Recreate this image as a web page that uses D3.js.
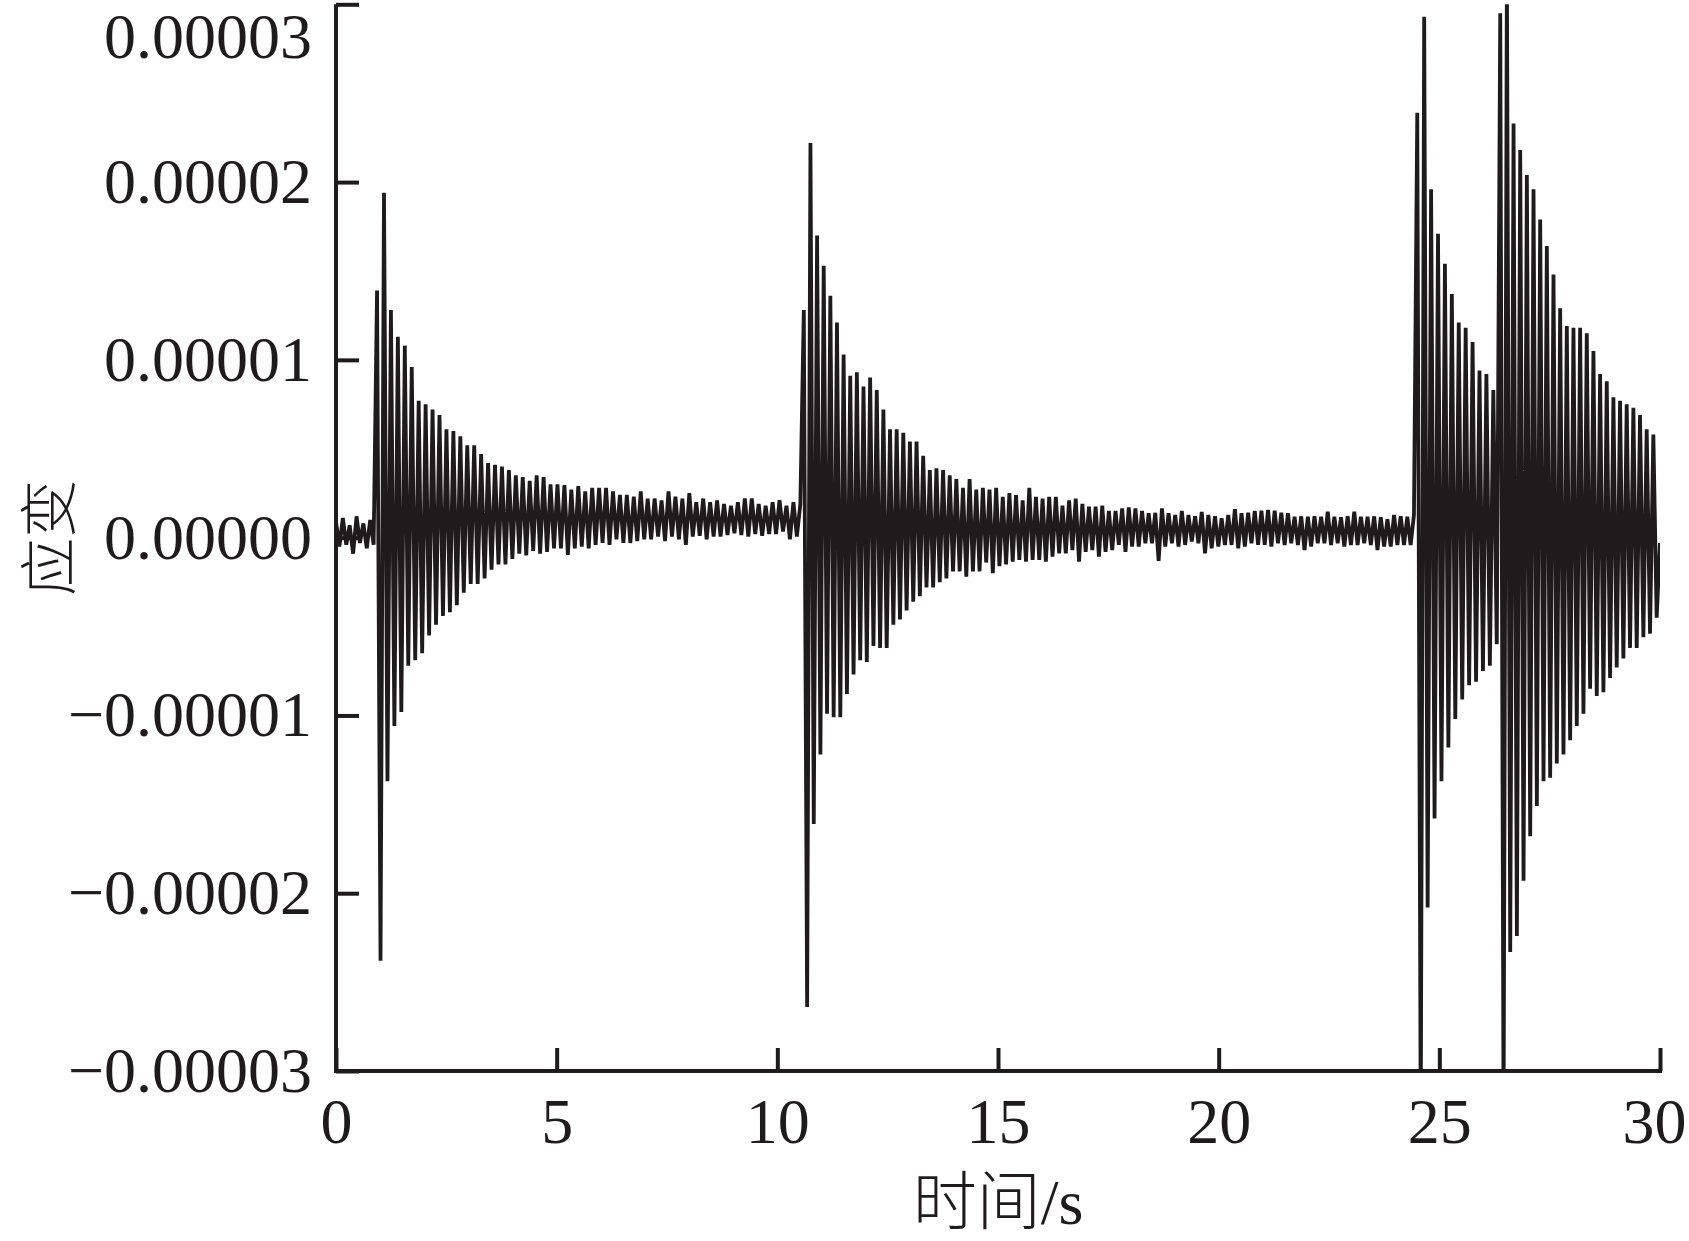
<!DOCTYPE html>
<html>
<head>
<meta charset="utf-8">
<script src="https://cdn.jsdelivr.net/npm/d3@7"></script>
<style>
  html, body { margin: 0; padding: 0; background: #ffffff; }
  svg { display: block; }
</style>
</head>
<body>
<svg id="chart" width="1689" height="1241"></svg>
<script>
// ---------------- data (strain, in units of 1e-6) ----------------
// successive extremes, segment by segment
const quiet0 = [0.9, -0.5, 1.1, -0.4, 0.7, -0.9, 1.2, -0.3, 0.8, -0.6, 1.0, -0.4];

const impact1 = [
  13.9, -23.8, 19.4, -13.7, 12.8, -10.6, 11.3, -9.8, 10.8, -7.2, 9.6, -6.9, 7.7, -6.5, 7.5, -5.5,
  7.2, -4.9, 6.9, -4.4, 6.1, -4.2, 6.0, -3.8, 5.7, -3.1, 5.2, -2.6, 5.2, -2.6, 4.7, -2.3,
  4.2, -1.8, 4.1, -1.5, 4.0, -1.5, 3.8, -1.2, 3.5, -0.9, 3.4, -1.0, 3.2, -0.75, 3.5, -0.9, 3.4,
  -0.8, 3.0, -0.6, 3.0, -0.6, 2.96, -0.97, 2.7, -0.6, 2.9, -0.5, 2.6, -0.6, 2.8, -0.4, 2.8,
  -0.3, 2.8, -0.4, 2.6, -0.1, 2.4, -0.3, 2.4, -0.3, 2.3, -0.2, 2.6, -0.1, 2.2, -0.1, 2.2,
  0.06, 2.1, -0.2, 2.6, 0.06, 2.3, -0.1, 2.2, -0.4, 2.5, 0.06, 2.0, 0.1, 2.2, -0.1, 2.0,
  0.06, 2.1, 0.06, 1.9, 0.15, 1.8, 0.25, 2.0, 0.15, 2.2, 0.06, 2.2, 0.2, 1.9, 0.1, 1.8,
  0.2, 2.0, 0.2, 2.1, 0.34, 1.8, -0.1, 2.0, 0.06, 1.9
];

const impact2 = [
  12.8, -26.4, 22.2, -16.1, 17.0, -12.2, 15.3, -9.9, 13.6, -10.1, 12.1, -10.1, 10.3, -8.8, 9.1, -7.7,
  9.3, -6.9, 8.5, -7.0, 9.0, -6.1, 8.3, -6.2, 7.2, -6.2, 6.1, -4.9, 6.1, -4.6, 5.9, -4.1,
  5.4, -3.6, 5.4, -3.3, 4.6, -2.8, 3.8, -2.8, 3.9, -2.5, 3.8, -2.3, 3.5, -1.9, 3.3, -1.9,
  2.8, -2.2, 3.3, -1.9, 2.7, -1.9, 2.8, -1.4,
  2.7, -2.0, 2.8, -1.6, 2.3, -1.5, 2.5, -1.35, 2.4, -1.25, 2.1, -1.35, 2.8, -1.25, 2.3, -1.25,
  2.2, -1.35, 2.3, -1.07, 2.3, -0.88, 1.8, -0.88, 2.1, -0.7, 2.2, -1.35, 1.9, -0.8, 1.75, -0.7,
  1.75, -1.07, 1.8, -0.8, 1.5, -0.7, 1.5, -0.41, 1.65, -0.8, 1.7, -0.5, 1.65, -0.5, 1.5, -0.32,
  1.37, -0.32, 1.4, -1.3, 1.65, -0.5, 1.37, -0.32, 1.28, -0.5, 1.5, -0.41, 1.28, -0.22, 1.2, -0.32,
  1.45, -0.88, 1.28, -0.6, 1.2, -0.5, 1.09, -0.41, 1.28, -0.41, 1.6, -0.6, 1.37, -0.5, 1.4, -0.32,
  1.5, -0.41, 1.52, -0.41, 1.56, -0.5, 1.52, -0.32, 1.4, -0.41, 1.37, -0.32, 1.18, -0.41, 1.2, -0.7,
  1.18, -0.5, 1.2, -0.32, 1.18, -0.32, 1.46, -0.41, 1.18, -0.32, 1.15, -0.5, 1.2, -0.41, 1.46, -0.41,
  1.18, -0.32, 1.18, -0.41, 1.2, -0.7, 1.15, -0.5, 1.03, -0.5, 1.28, -0.41, 1.2, -0.41, 1.18, -0.41, 1.28
];

const impact3 = [
  23.9, -33, 29.3, -20.8, 19.6, -15.8, 17.1, -13.7, 15.4, -11.8, 13.7, -10.2,
  12.1, -9.1, 11.8, -8.3, 11.0, -8.1, 9.4, -7.5, 9.2, -7.2, 8.3, -6.0
];

const impact4 = [
  29.5, -33, 32, -23.3, 23.3, -22.4, 21.8, -19.3, 20.4, -16.8, 19.6, -15.1, 17.9, -13.7, 16.4, -13.5,
  14.8, -12.7, 12.9, -12.2, 11.9, -11.4, 11.8, -10.6, 11.8, -9.9, 11.5, -8.5, 10.5, -8.9, 9.2, -8.7,
  8.8, -7.9, 7.9, -7.3, 7.7, -6.8, 7.5, -6.2, 7.3, -6.2, 6.9, -5.6, 6.1, -5.4, 5.8, -4.5, -0.3
];

// time span (s) covered by each segment above
const segmentStart = [0, 0.93, 10.6, 24.5, 26.38];
const segmentEnd   = [0.93, 10.6, 24.5, 26.38, 30];
const segments = [quiet0, impact1, impact2, impact3, impact4];

const xTicks = [0, 5, 10, 15, 20, 25, 30];
const xTickLabels = ["0", "5", "10", "15", "20", "25", "30"];
const yTicks = [-0.00003, -0.00002, -0.00001, 0, 0.00001, 0.00002, 0.00003];
const yTickLabels = ["\u22120.00003", "\u22120.00002", "\u22120.00001", "0.00000", "0.00001", "0.00002", "0.00003"];

const xTitle = "时间/s";
const yTitle = "应变";

// ---------------- build series ----------------
const series = [];
segments.forEach((vals, k) => {
  const t0 = segmentStart[k], t1 = segmentEnd[k];
  const last = k === segments.length - 1;
  const n = last ? vals.length - 1 : vals.length;
  vals.forEach((v, i) => series.push({ t: t0 + (t1 - t0) * i / n, v: v * 1e-6 }));
});

// ---------------- layout ----------------
const W = 1689, H = 1241;
const pLeft = 336, pRight = 1660, pTop = 4.3, pBottom = 1071;
const svg = d3.select("#chart");
svg.append("rect").attr("width", W).attr("height", H).attr("fill", "#fff");

const x = d3.scaleLinear().domain([0, 30]).range([pLeft, pRight]);
const y = d3.scaleLinear().domain([-0.00003, 0.00003]).range([pBottom, pTop]);

const ink = "#1f1b1c";
const tickFont = "'Liberation Serif','Times New Roman',serif";

svg.append("clipPath").attr("id", "plotClip")
  .append("rect").attr("x", pLeft).attr("y", pTop).attr("width", pRight - pLeft).attr("height", pBottom - pTop);

const line = d3.line().x(d => x(d.t)).y(d => y(d.v));
svg.append("path")
  .datum(series)
  .attr("clip-path", "url(#plotClip)")
  .attr("d", line)
  .attr("fill", "none")
  .attr("stroke", ink)
  .attr("stroke-width", 3.8)
  .attr("stroke-linejoin", "miter")
  .attr("stroke-miterlimit", 3);

// axes
const xAxis = d3.axisBottom(x)
  .tickValues(xTicks)
  .tickFormat((d, i) => xTickLabels[i])
  .tickSizeInner(-23).tickSizeOuter(0).tickPadding(27);
const yAxis = d3.axisLeft(y)
  .tickValues(yTicks)
  .tickFormat((d, i) => yTickLabels[i])
  .tickSizeInner(-23).tickSizeOuter(0).tickPadding(24);

const gx = svg.append("g").attr("transform", `translate(0,${pBottom})`).call(xAxis);
const gy = svg.append("g").attr("transform", `translate(${pLeft},0)`).call(yAxis);

[gx, gy].forEach(g => {
  g.select(".domain").attr("stroke", ink).attr("stroke-width", 4);
  g.selectAll(".tick line").attr("stroke", ink).attr("stroke-width", 4);
  g.selectAll(".tick text")
    .attr("fill", ink)
    .style("font-family", tickFont)
    .style("font-size", "64px");
});
gx.select(".domain").attr("d", `M${pLeft - 2},0H${pRight + 2}`);
gy.select(".domain").attr("d", `M0,${pTop}V${pBottom + 2}`);

// keep every tick label box inside the page
gy.selectAll(".tick text").each(function () {
  const ty = y(d3.select(this.parentNode).datum());
  const bb = this.getBBox();
  const boxTop = ty + bb.y;
  if (boxTop < 0.5) d3.select(this).attr("y", 0.5 - boxTop);
});
gx.selectAll(".tick text").each(function () {
  const tx = x(d3.select(this.parentNode).datum());
  const bb = this.getBBox();
  const rightEdge = tx + bb.x + bb.width;
  if (rightEdge > W - 3) d3.select(this).attr("x", (W - 3) - rightEdge);
});

// axis titles
svg.append("text")
  .attr("x", (pLeft + pRight) / 2)
  .attr("y", 1224)
  .attr("text-anchor", "middle")
  .attr("fill", ink)
  .style("font-family", "'Liberation Serif','Noto Sans CJK SC',serif")
  .style("font-size", "64px")
  .style("font-weight", 300)
  .text(xTitle);

svg.append("text")
  .attr("transform", `translate(70,${(pTop + pBottom) / 2}) rotate(-90)`)
  .attr("text-anchor", "middle")
  .attr("fill", ink)
  .style("font-family", "'Noto Sans CJK SC',serif")
  .style("font-size", "58px")
  .style("font-weight", 300)
  .text(yTitle);
</script>
</body>
</html>
